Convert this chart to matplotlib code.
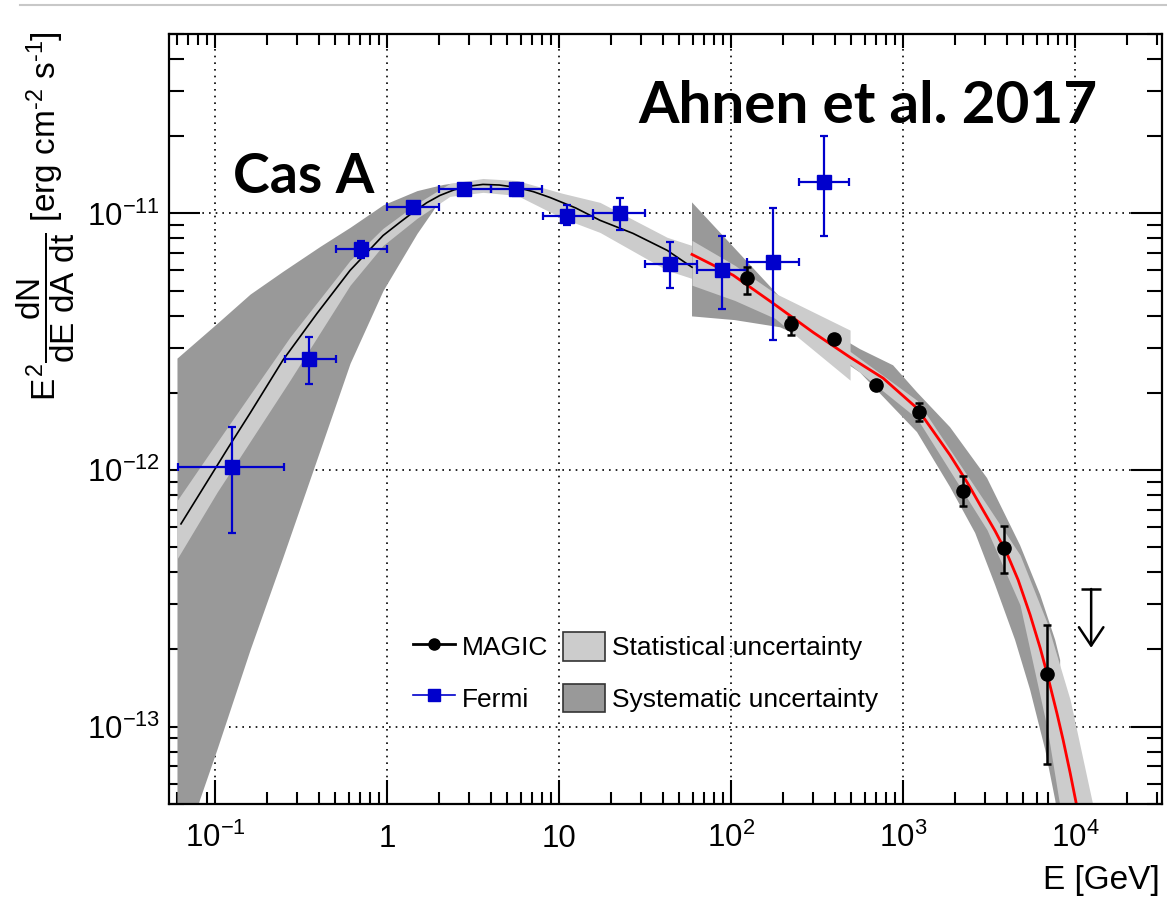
import matplotlib
matplotlib.use('Agg')
import matplotlib.pyplot as plt
import matplotlib.transforms as mtransforms
from matplotlib.lines import Line2D
from matplotlib.patches import Patch
from matplotlib.ticker import FixedLocator, NullFormatter
import numpy as np

plt.rcParams['font.family'] = ['Liberation Sans', 'DejaVu Sans']
plt.rcParams['mathtext.fontset'] = 'custom'
plt.rcParams['mathtext.rm'] = 'Liberation Sans'
plt.rcParams['mathtext.it'] = 'Liberation Sans'
plt.rcParams['mathtext.sf'] = 'Liberation Sans'
plt.rcParams['mathtext.bf'] = 'Liberation Sans:bold'

# ---------------- data ----------------
fermi_E = [0.1256, 0.352, 0.706, 1.415, 2.8, 5.6, 11.1, 22.6, 44.2, 88.7, 175, 347]
fermi_F = [1.03e-12, 2.70e-12, 7.24e-12, 1.055e-11, 1.25e-11, 1.24e-11, 9.8e-12,
           1.0e-11, 6.34e-12, 6.0e-12, 6.44e-12, 1.32e-11]
fermi_E_lo = [0.061, 0.255, 0.505, 1.0, 2.0, 4.0, 8.07, 15.8, 31.6, 63.0, 124, 248]
fermi_E_hi = [0.252, 0.505, 1.0, 2.0, 4.0, 8.0, 15.8, 31.6, 63.0, 124, 248, 485]
fermi_F_hi = [1.47e-12, 3.30e-12, 7.78e-12, 1.09e-11, 1.28e-11, 1.31e-11, 1.074e-11,
              1.153e-11, 7.71e-12, 8.14e-12, 1.045e-11, 2.0e-11]
fermi_F_lo = [5.69e-13, 2.16e-12, 6.68e-12, 1.02e-11, 1.22e-11, 1.17e-11, 8.98e-12,
              8.6e-12, 5.1e-12, 4.23e-12, 3.2e-12, 8.15e-12]

magic_E = [124, 223, 397, 697, 1240, 2234, 3860, 6870]
magic_F = [5.58e-12, 3.70e-12, 3.24e-12, 2.14e-12, 1.68e-12, 8.28e-13, 4.97e-13, 1.61e-13]
magic_F_hi = [6.2e-12, 3.94e-12, 3.30e-12, 2.20e-12, 1.82e-12, 9.5e-13, 6.05e-13, 2.49e-13]
magic_F_lo = [4.84e-12, 3.37e-12, 3.18e-12, 2.08e-12, 1.55e-12, 7.24e-13, 3.97e-13, 7.18e-14]

ul_E = 12400
ul_F_top = 3.44e-13
ul_F_tip = 2.03e-13

fermi_fit_E = [0.0634, 0.119, 0.160, 0.248, 0.392, 0.610, 0.948, 1.188, 1.416, 1.70, 2.03,
               2.45, 2.92, 3.61, 4.50, 5.70, 7.10, 8.88, 12.5, 17.3, 26.9, 42.5, 59.3]
fermi_fit_F = [6.17e-13, 1.219e-12, 1.667e-12, 2.68e-12, 4.08e-12, 6.00e-12, 8.20e-12,
               9.23e-12, 1.009e-11, 1.10e-11, 1.175e-11, 1.235e-11, 1.274e-11, 1.297e-11,
               1.29e-11, 1.262e-11, 1.215e-11, 1.153e-11, 1.05e-11, 9.40e-12, 8.36e-12,
               7.18e-12, 6.17e-12]

magic_fit_E = [59.3, 103, 175, 300, 492, 766, 1205, 1876, 2355, 2917, 3428, 4027, 4667,
               5476, 6264, 6875, 7853, 8515, 9357, 10270, 11430]
magic_fit_F = [6.92e-12, 5.74e-12, 4.47e-12, 3.44e-12, 2.75e-12, 2.28e-12, 1.742e-12,
               1.143e-12, 8.97e-13, 6.98e-13, 5.79e-13, 4.71e-13, 3.73e-13, 2.73e-13,
               2.03e-13, 1.61e-13, 1.124e-13, 8.9e-14, 6.62e-14, 4.84e-14, 3.3e-14]

fermi_sys_E = [0.0601, 0.1028, 0.160, 0.248, 0.408, 0.610, 0.948, 1.494, 1.849, 2.12, 2.32,
               2.92, 3.61, 5.70, 8.88, 17.3, 26.9, 42.5, 59.3]
fermi_sys_hi = [2.73e-12, 3.73e-12, 4.85e-12, 5.95e-12, 7.44e-12, 8.83e-12, 1.08e-11,
                1.227e-11, 1.27e-11, 1.297e-11, 1.309e-11, 1.32e-11, 1.309e-11, 1.29e-11,
                1.18e-11, 9.6e-12, 8.5e-12, 7.3e-12, 6.3e-12]
fermi_sys_lo = [2.9e-14, 8.2e-14, 2.0e-13, 4.58e-13, 1.197e-12, 2.61e-12, 5.01e-12, 8.36e-12,
                1.028e-11, 1.197e-11, 1.227e-11, 1.262e-11, 1.26e-11, 1.23e-11, 1.12e-11,
                9.2e-12, 8.2e-12, 7.0e-12, 6.0e-12]

fermi_stat_E = [0.0601, 0.1028, 0.273, 0.610, 0.948, 1.494, 2.32, 3.61, 5.70, 10.5, 17.3,
                42.5, 59.3]
fermi_stat_hi = [7.6e-13, 1.285e-12, 3.30e-12, 6.56e-12, 8.75e-12, 1.094e-11, 1.309e-11,
                 1.368e-11, 1.343e-11, 1.197e-11, 1.104e-11, 8.07e-12, 7.50e-12]
fermi_stat_lo = [4.5e-13, 8.2e-13, 2.24e-12, 5.25e-12, 7.50e-12, 9.57e-12, 1.165e-11,
                 1.208e-11, 1.175e-11, 9.57e-12, 8.43e-12, 6.0e-12, 5.58e-12]

magic_sys_up_E = [59.3, 105, 193, 329, 562, 875, 1205, 1876, 3077, 4786, 6264, 7656, 8187]
magic_sys_up_F = [1.104e-11, 7.31e-12, 4.71e-12, 3.66e-12, 2.96e-12, 2.56e-12, 2.01e-12,
                  1.469e-12, 9.31e-13, 5.1e-13, 3.27e-13, 2.18e-13, 1.82e-13]
magic_sys_lo_E = [59.3, 105, 193, 329, 562, 875, 1205, 1876, 2624, 3428, 4477, 5476, 6700,
                  7656, 8187]
magic_sys_lo_F = [3.97e-12, 3.84e-12, 3.60e-12, 3.06e-12, 2.40e-12, 1.758e-12, 1.406e-12,
                  8.59e-13, 5.69e-13, 3.57e-13, 2.18e-13, 1.393e-13, 8.15e-14, 5.2e-14, 3.97e-14]

magic_stat_pl_E = [59.3, 105, 180, 492]
magic_stat_pl_hi = [7.85e-12, 6.28e-12, 4.89e-12, 3.51e-12]
magic_stat_pl_lo = [5.25e-12, 4.58e-12, 3.90e-12, 2.24e-12]

magic_stat_cv_E = [300, 492, 1205, 3077, 4786, 6875, 9357, 12740]
magic_stat_cv_hi = [3.6e-12, 2.90e-12, 1.87e-12, 7.31e-13, 4.67e-13, 2.54e-13, 1.274e-13, 4.89e-14]
magic_stat_cv_lo = [3.3e-12, 2.58e-12, 1.59e-12, 5.85e-13, 2.98e-13, 9.9e-14, 2.8e-14, 1.0e-14]

x_major = [0.1, 1, 10, 100, 1000, 10000]
x_major_labels = [r'$10^{-1}$', '1', '10', r'$10^{2}$', r'$10^{3}$', r'$10^{4}$']
y_major = [1e-13, 1e-12, 1e-11]
y_major_labels = [r'$10^{-13}$', r'$10^{-12}$', r'$10^{-11}$']

# ---------------- styles ----------------
C_DARK = '#999999'
C_LIGHT = '#cccccc'
C_BLUE = '#0000cc'
C_RED = '#ff0000'

fig = plt.figure(figsize=(11.67, 9.01), dpi=100)
ax = fig.add_axes([0.1448, 0.10766, 0.8509, 0.8546])
ax.set_xscale('log')
ax.set_yscale('log')
ax.set_xlim(0.054, 3.2e4)
ax.set_ylim(5e-14, 5e-11)
ax.set_axisbelow(True)

# bands
ax.fill_between(fermi_sys_E, fermi_sys_lo, fermi_sys_hi, color=C_DARK, lw=0, zorder=1)
ax.fill_between(fermi_stat_E, fermi_stat_lo, fermi_stat_hi, color=C_LIGHT, lw=0, zorder=1.1)
ax.fill(list(magic_sys_up_E) + list(magic_sys_lo_E)[::-1],
        list(magic_sys_up_F) + list(magic_sys_lo_F)[::-1],
        color=C_DARK, lw=0, zorder=1.2)
ax.fill_between(magic_stat_pl_E, magic_stat_pl_lo, magic_stat_pl_hi, color=C_LIGHT, lw=0, zorder=1.3)
ax.fill_between(magic_stat_cv_E, magic_stat_cv_lo, magic_stat_cv_hi, color=C_LIGHT, lw=0, zorder=1.3)

# fit curves
ax.plot(fermi_fit_E, fermi_fit_F, color='black', lw=1.2, zorder=3)
ax.plot(magic_fit_E, magic_fit_F, color=C_RED, lw=2.0, zorder=3)

# data points
fE = np.array(fermi_E); fF = np.array(fermi_F)
ax.errorbar(fE, fF,
            xerr=[fE - np.array(fermi_E_lo), np.array(fermi_E_hi) - fE],
            yerr=[fF - np.array(fermi_F_lo), np.array(fermi_F_hi) - fF],
            fmt='s', color=C_BLUE, ms=10, elinewidth=1.6, capsize=3.2, capthick=1.6, zorder=5)
mE = np.array(magic_E); mF = np.array(magic_F)
ax.errorbar(mE, mF,
            yerr=[mF - np.array(magic_F_lo), np.array(magic_F_hi) - mF],
            fmt='o', color='black', ms=9.5, elinewidth=1.8, capsize=3, capthick=1.8, zorder=6)

# upper limit
ax.plot([ul_E], [ul_F_top], marker='_', ms=14, mew=1.8, color='black', zorder=6)
ax.annotate('', xy=(ul_E, ul_F_tip), xytext=(ul_E, ul_F_top),
            arrowprops=dict(arrowstyle='->,head_length=0.6,head_width=0.4', color='black',
                            lw=1.8, mutation_scale=22, shrinkA=0, shrinkB=0), zorder=6)

# ticks / grid
def minor_list(lo_exp, hi_exp, lo, hi):
    out = []
    for e in range(lo_exp, hi_exp + 1):
        for k in range(2, 10):
            v = k * 10.0 ** e
            if lo <= v <= hi:
                out.append(v)
    return out

x_minor = minor_list(-2, 4, 0.054, 3.2e4)
y_minor = minor_list(-14, -11, 5e-14, 5e-11)

ax.xaxis.set_major_locator(FixedLocator(x_major))
ax.xaxis.set_minor_locator(FixedLocator(x_minor))
ax.xaxis.set_minor_formatter(NullFormatter())
ax.yaxis.set_major_locator(FixedLocator(y_major))
ax.yaxis.set_minor_locator(FixedLocator(y_minor))
ax.yaxis.set_minor_formatter(NullFormatter())
ax.set_yticklabels(y_major_labels)
ax.tick_params(axis='x', which='major', direction='in', length=17, width=1.5,
               bottom=True, top=False, labelbottom=False)
ax.tick_params(axis='x', which='minor', direction='in', length=8.5, width=1.5,
               bottom=True, top=False)
ax.tick_params(axis='y', which='major', direction='in', length=22, width=1.5,
               left=True, right=True, labelsize=22.5, pad=6.5)
ax.tick_params(axis='y', which='minor', direction='in', length=11, width=1.5,
               left=True, right=True)
ax.grid(True, which='major', color='black', linestyle=(0, (1, 3)), lw=1.2)
for s in ax.spines.values():
    s.set_linewidth(1.6)
    s.set_zorder(10)

# top ticks (shorter)
ax2 = ax.twiny()
ax2.set_xscale('log')
ax2.set_xlim(ax.get_xlim())
ax2.xaxis.set_major_locator(FixedLocator(x_major))
ax2.xaxis.set_minor_locator(FixedLocator(x_minor))
ax2.xaxis.set_minor_formatter(NullFormatter())
ax2.tick_params(axis='x', which='major', direction='in', length=10, width=1.5,
                top=True, bottom=False, labeltop=False)
ax2.tick_params(axis='x', which='minor', direction='in', length=8, width=1.5,
                top=True, bottom=False)
for s in ax2.spines.values():
    s.set_visible(False)

# x tick labels (aligned on a common baseline)
trans = mtransforms.blended_transform_factory(ax.transData, ax.transAxes)
for xv, lab in zip(x_major, x_major_labels):
    ax.text(xv, -0.0558, lab, transform=trans, ha='center', va='baseline', fontsize=22.5)

# axis titles
fig.text(1160 / 1167, 1 - 880 / 901, 'E [GeV]', ha='right', va='center', fontsize=24)
fig.text(45.5 / 1167, 1 - 31 / 901,
         r'$E^{2}\dfrac{dN}{dE\ dA\ dt}$ [erg cm$^{\text{-}2}$ s$^{\text{-}1}$]',
         rotation=90, ha='center', va='top', fontsize=24)

# annotations
fig.text(233 / 1167, 1 - 193 / 901, 'Cas A', ha='left', va='baseline',
         fontsize=40, fontweight='bold', family='Lato')
fig.text(638 / 1167, 1 - 123 / 901, 'Ahnen et al. 2017', ha='left', va='baseline',
         fontsize=42, fontweight='bold', family='Lato')

# legend
handles = [
    Line2D([], [], color='black', lw=2, marker='o', ms=8),
    Line2D([], [], color=C_BLUE, lw=1.2, marker='s', ms=8),
    Patch(facecolor=C_LIGHT, edgecolor='#333333', lw=1.2),
    Patch(facecolor=C_DARK, edgecolor='#333333', lw=1.2),
]
labels = ['MAGIC', 'Fermi', 'Statistical uncertainty', 'Systematic uncertainty']
ax.legend(handles, labels, ncol=2, loc='upper left', bbox_to_anchor=(0.2457, 0.2234),
          frameon=False, fontsize=19, handlelength=1.6, handleheight=1.29,
          handletextpad=0.27, labelspacing=0.88, columnspacing=0.53, borderpad=0,
          borderaxespad=0)

# thin grey rule at the top of the slide
fig.add_artist(Line2D([20 / 1167, 1.0], [1 - 5 / 901, 1 - 5 / 901], transform=fig.transFigure,
                      color='#c8c8c8', lw=1.5))

fig.savefig('out.png', dpi=100)
